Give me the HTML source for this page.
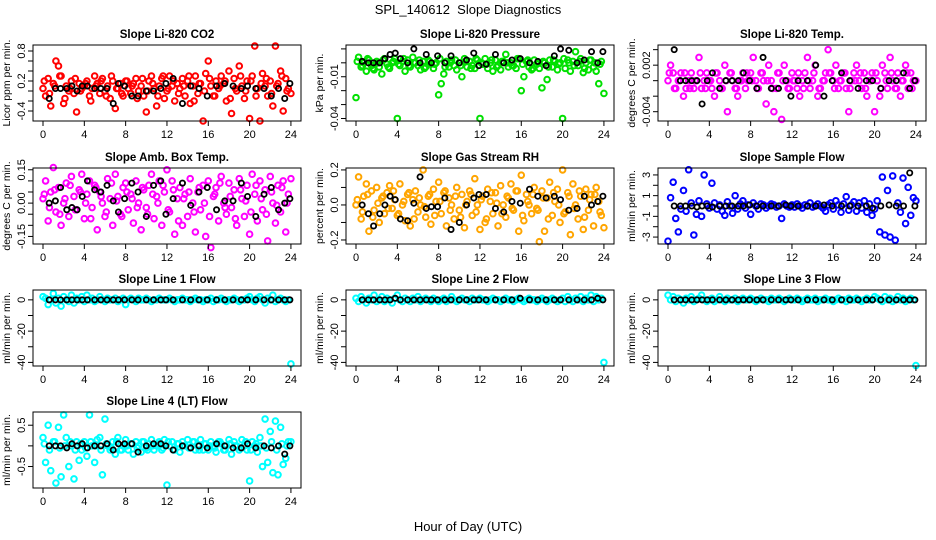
<!DOCTYPE html>
<html><head><meta charset="utf-8"><style>
html,body{margin:0;padding:0;background:#fff;}
svg{display:block;font-family:"Liberation Sans",sans-serif;}
</style></head><body>
<svg id="chart" width="936" height="540" viewBox="0 0 936 540" xmlns="http://www.w3.org/2000/svg">
<text x="468" y="14" text-anchor="middle" font-size="13">SPL_140612&#160;&#160;Slope Diagnostics</text>
<text x="468" y="531" text-anchor="middle" font-size="13">Hour of Day (UTC)</text>
</svg>
<script>
const hours = [0,0.25,0.5,0.75,1,1.25,1.5,1.75,2,2.25,2.5,2.75,3,3.25,3.5,3.75,4,4.25,4.5,4.75,5,5.25,5.5,5.75,6,6.25,6.5,6.75,7,7.25,7.5,7.75,8,8.25,8.5,8.75,9,9.25,9.5,9.75,10,10.25,10.5,10.75,11,11.25,11.5,11.75,12,12.25,12.5,12.75,13,13.25,13.5,13.75,14,14.25,14.5,14.75,15,15.25,15.5,15.75,16,16.25,16.5,16.75,17,17.25,17.5,17.75,18,18.25,18.5,18.75,19,19.25,19.5,19.75,20,20.25,20.5,20.75,21,21.25,21.5,21.75,22,22.25,22.5,22.75,23,23.25,23.5,23.75,24];
const hours2 = [0.125,0.625,1.125,1.625,2.125,2.625,3.125,3.625,4.125,4.625,5.125,5.625,6.125,6.625,7.125,7.625,8.125,8.625,9.125,9.625,10.125,10.625,11.125,11.625,12.125,12.625,13.125,13.625,14.125,14.625,15.125,15.625,16.125,16.625,17.125,17.625,18.125,18.625,19.125,19.625,20.125,20.625,21.125,21.625,22.125,22.625,23.125,23.625];
const blackHours = [0.6,1.2,1.7,2.3,2.8,3.3,3.8,4.3,5.0,5.6,6.2,6.8,7.3,7.9,8.6,9.2,10.0,10.7,11.4,11.9,12.6,13.5,14.3,15.1,15.9,16.8,17.6,18.4,19.2,19.8,20.6,21.4,22.1,22.8,23.4,23.9];
const xTicks = [0,4,8,12,16,20,24];

const co2Vals = [0.05,-0.1,0.25,-0.3,0.15,0.6,0.5,0.3,-0.25,0.1,0.0,0.2,-0.05,-0.42,0.15,0.05,
0.1,0.2,-0.1,0.05,0.3,0.15,-0.05,0.25,0.0,0.1,-0.15,0.2,-0.35,0.05,0.15,-0.1,
0.2,0.05,-0.05,0.15,0.25,0.0,0.1,-0.1,-0.42,0.2,0.3,0.05,-0.3,0.1,0.25,-0.15,
0.0,0.3,0.1,-0.2,0.15,0.05,0.25,-0.1,0.2,-0.25,0.1,0.3,-0.05,0.15,-0.6,0.35,
0.6,0.1,-0.1,0.2,0.05,0.3,0.15,-0.2,0.4,-0.45,0.25,0.0,0.5,0.1,-0.15,0.2,
-0.55,0.3,0.9,0.05,-0.6,0.35,0.1,-0.1,0.2,-0.3,0.9,0.15,0.4,-0.4,0.25,0.05,-0.05];
const co2ValsB = [0.2,-0.05,0.1,0.3,-0.15,0.05,0.25,0.0,0.15,-0.2,0.1,0.2,-0.1,0.3,0.05,-0.05,0.2,0.1,-0.15,0.25,0.0,0.15,-0.1,0.3,0.05,0.2,-0.05,0.1,0.3,-0.2,0.15,0.0,0.25,-0.1,0.1,0.2,-0.15,0.05,0.3,0.0,0.2,-0.1,0.15,0.25,-0.05,0.1,0.3,0.0];
const co2Black = [-0.15,0.05,0.05,0.05,0.1,0.0,0.1,0.1,0.05,0.05,0.05,-0.25,0.15,0.1,-0.1,-0.1,0.0,0.0,0.05,0.15,0.25,-0.25,0.1,0.05,-0.1,0.1,0.15,0.1,0.05,0.1,0.05,0.05,-0.1,0.05,-0.15,0.15];

const presVals = [-0.025,0.004,-0.003,0.0,-0.006,0.002,-0.002,-0.005,0.001,-0.003,-0.008,0.003,-0.001,-0.004,0.0,0.003,
-0.04,-0.002,0.001,-0.006,0.002,-0.003,0.004,0.0,-0.002,-0.005,0.001,-0.003,0.002,-0.001,-0.004,0.0,
-0.023,-0.015,-0.008,0.001,-0.003,0.002,-0.002,-0.005,0.0,-0.01,0.003,-0.003,0.001,-0.002,-0.004,0.002,
-0.04,-0.001,0.003,-0.004,0.0,-0.006,0.002,-0.002,-0.005,0.001,0.006,-0.003,0.0,-0.002,-0.004,0.003,
-0.02,-0.01,0.001,-0.003,-0.005,0.002,-0.001,-0.004,-0.018,0.0,-0.012,0.002,-0.003,0.001,-0.005,0.0,
-0.04,-0.004,0.002,-0.006,0.001,0.008,-0.002,0.003,-0.007,0.0,-0.005,0.002,-0.003,-0.006,-0.015,0.001,-0.022];
const presValsB = [0.001,-0.002,0.003,-0.004,0.0,0.002,-0.003,0.001,-0.001,0.003,-0.002,0.0,0.002,-0.004,0.001,-0.001,0.003,-0.003,0.0,0.002,-0.002,0.001,-0.004,0.003,0.0,-0.001,0.002,-0.003,0.001,0.0,-0.002,0.003,-0.001,0.002,-0.004,0.0,0.001,-0.003,0.002,-0.001,0.003,0.0,-0.002,0.001,-0.004,0.002,0.0,-0.001];
const presBlack = [0.001,0.0,0.0,0.0,0.003,0.006,0.007,0.003,0.0,0.01,0.0,0.006,0.0,0.005,0.0,0.005,0.0,0.002,0.007,-0.002,-0.001,0.006,0.0,0.002,0.003,0.0,0.001,-0.002,0.005,0.01,0.009,0.0,0.002,0.008,0.0,0.008];

const tempVals = [0.0,0.002,0.001,-0.001,0.0,0.001,-0.002,-0.001,0.0,0.001,-0.001,0.0,0.003,-0.001,0.0,0.001,
0.0,-0.001,-0.002,0.001,0.0,-0.001,0.002,-0.004,0.001,0.0,-0.001,-0.002,0.0,0.001,-0.001,0.0,
0.001,0.003,0.0,-0.001,0.001,0.0,-0.003,0.002,0.0,-0.004,-0.001,0.001,-0.005,0.002,0.0,-0.001,
0.001,0.0,-0.001,-0.002,0.0,0.001,0.003,-0.001,0.0,0.002,-0.002,-0.001,0.0,0.001,0.004,0.001,
0.0,0.002,-0.001,0.0,0.001,-0.001,-0.004,0.0,0.001,0.002,0.0,-0.001,0.001,-0.002,0.0,0.001,
-0.004,0.0,-0.002,0.002,0.001,-0.001,0.003,0.0,-0.001,0.001,-0.002,0.0,0.002,-0.001,0.001,0.0,0.0];
const tempValsB = [0.001,-0.001,0.0,0.001,-0.001,0.0,0.001,-0.001,0.0,0.001,-0.001,0.0,0.001,-0.001,0.0,0.001,0.0,-0.001,0.001,0.0,-0.001,0.001,0.0,-0.001,0.0,0.001,-0.001,0.0,0.001,-0.001,0.0,0.001,-0.001,0.0,0.001,-0.001,0.0,0.001,-0.001,0.0,0.001,-0.001,0.0,0.001,-0.001,0.0,0.001,-0.001];
const tempBlack = [0.004,0.0,0.0,0.0,0.0,-0.003,0.0,0.001,-0.001,0.0,0.0,0.0,0.001,0.0,-0.001,0.003,-0.001,-0.001,0.0,-0.002,0.0,0.0,0.002,-0.002,0.0,0.001,0.0,-0.001,0.0,0.0,-0.001,0.0,0.0,0.001,-0.001,0.0];

const ambVals = [0.02,0.1,-0.08,0.05,0.16,-0.04,0.07,-0.1,0.0,0.09,-0.06,0.12,0.03,-0.03,0.06,0.13,
-0.07,0.04,0.1,-0.02,0.08,-0.12,0.05,0.0,-0.06,0.11,0.02,-0.1,0.13,0.03,-0.05,0.07,
0.09,-0.03,0.04,-0.09,0.1,0.0,-0.12,0.06,-0.02,0.08,0.13,-0.07,0.03,0.1,-0.1,0.05,
0.15,-0.04,0.1,-0.14,0.02,0.07,-0.1,0.04,-0.06,0.11,0.0,-0.13,0.05,-0.03,0.08,-0.15,
0.1,-0.2,0.03,0.07,-0.08,0.12,0.0,-0.05,0.09,-0.02,0.06,-0.1,0.11,0.02,-0.06,0.08,
-0.14,0.13,0.04,-0.08,0.1,-0.03,0.06,-0.17,0.12,0.0,-0.09,0.08,-0.04,0.1,-0.13,0.04,0.11];
const ambValsB = [0.04,-0.02,0.06,-0.05,0.02,0.08,-0.03,0.05,0.0,-0.07,0.07,0.03,-0.04,0.09,0.01,-0.06,0.05,0.02,-0.02,0.07,-0.05,0.04,0.0,0.08,-0.03,0.06,-0.08,0.02,0.05,-0.04,0.07,0.0,-0.06,0.04,0.09,-0.02,0.03,-0.07,0.06,0.01,-0.04,0.08,0.02,-0.05,0.05,-0.01,0.07,0.0];
const ambBlack = [0.0,0.01,0.07,-0.03,-0.02,-0.03,0.03,0.1,0.06,0.05,0.08,0.01,-0.04,0.02,0.09,0.05,-0.06,0.08,0.1,-0.05,0.02,0.09,-0.01,0.05,0.07,-0.03,0.01,0.01,0.09,0.03,-0.06,0.04,0.07,-0.03,0.0,0.02];

const rhVals = [0.0,0.16,-0.08,0.05,0.12,-0.15,0.08,-0.03,0.1,-0.1,0.04,-0.05,0.07,0.11,-0.02,0.03,
-0.06,0.12,0.0,-0.09,0.06,-0.12,0.03,0.08,-0.04,0.0,0.2,-0.07,0.05,-0.11,0.09,0.02,
0.13,-0.05,0.07,-0.12,0.04,0.0,-0.08,0.1,-0.03,0.06,-0.13,0.02,0.08,-0.06,0.15,0.0,
-0.14,0.05,-0.1,0.09,0.02,-0.05,0.07,-0.12,0.11,0.0,-0.07,0.04,0.12,-0.03,0.08,-0.15,
0.17,-0.09,0.06,0.0,-0.05,0.1,-0.02,-0.21,0.08,-0.15,0.04,0.13,-0.06,0.02,0.09,-0.1,
0.2,-0.04,0.07,-0.17,0.12,0.0,-0.08,0.05,-0.14,0.09,-0.03,0.06,-0.12,0.1,0.02,-0.06,-0.13];
const rhValsB = [0.03,-0.04,0.06,-0.07,0.01,0.05,-0.02,0.08,-0.05,0.02,0.07,-0.08,0.04,-0.01,0.06,-0.06,0.02,0.08,-0.03,0.05,-0.07,0.0,0.06,-0.04,0.03,-0.08,0.07,0.01,-0.05,0.05,-0.02,0.08,-0.06,0.02,0.06,-0.03,0.04,-0.08,0.07,0.0,-0.05,0.05,-0.02,0.08,-0.07,0.03,0.06,-0.04];
const rhBlack = [0.0,-0.05,-0.12,-0.05,0.0,0.05,0.03,-0.08,-0.09,0.01,0.16,-0.02,-0.01,-0.01,0.04,-0.14,-0.1,0.0,0.04,0.06,0.06,-0.02,-0.04,0.02,0.01,0.09,0.05,0.04,0.05,0.03,-0.03,-0.02,0.05,0.0,0.02,0.05];

const sampVals = [-3.4,0.8,2.3,-1.2,-2.5,-0.3,1.5,-0.5,3.5,0.3,-2.8,-0.8,0.5,-1.0,3.0,0.2,
-0.2,2.2,0.3,-0.3,0.1,-0.5,-0.9,0.4,0.0,-0.7,1.0,-0.3,0.2,0.5,-0.2,0.1,
-0.8,0.3,0.0,-0.3,0.2,0.1,-0.2,0.0,0.2,0.1,-0.1,0.0,-1.2,0.2,0.0,-0.1,
0.1,-0.1,0.2,0.0,-0.2,0.1,0.0,0.3,-0.1,0.0,0.2,0.0,-0.2,-0.5,0.1,0.3,
-0.3,0.5,0.1,-0.6,0.2,0.9,-0.4,0.1,0.4,-0.5,0.3,-0.2,0.5,-0.6,0.2,-0.9,
-0.3,0.5,-2.5,2.8,-2.8,1.5,-3.0,2.9,-3.3,0.3,-0.6,2.7,-1.7,1.8,-0.9,0.8,0.5];
const sampBlack = [0,0,0,0,-0.1,0,0,-0.1,0,0,0,0,0,0.1,0,0,0,0,0.1,0,0,0,0,0.1,0,0,0,0,0,-0.2,0,0.1,0,0,3.2,0];

const line1Vals = [2,1,-3,0,4,-2,1,-4,2,0,-1,3,-2,1,0,2,-1,3,0,1,-1,0,2,0,-1,1,0,0,1,-1,0,1,
-3,0,1,0,-1,1,0,0,1,0,-1,0,0,1,0,0,0,1,0,-1,0,0,1,0,0,-1,0,1,0,0,-1,0,
0,1,-1,0,0,1,0,-1,0,0,1,0,-1,0,0,1,2,0,-1,1,2,0,-2,1,0,3,-1,0,1,0,-1,0,-41];
const line2Vals = [1,-1,2,0,-2,1,0,3,-1,0,2,-1,1,0,-2,1,3,0,-1,1,0,-1,1,0,2,-1,0,1,0,-1,1,0,
-1,0,1,-1,0,2,0,-1,0,1,0,0,-1,1,0,0,1,0,0,-1,0,1,0,0,-1,0,1,0,0,-1,0,1,
0,-1,0,1,0,0,-1,0,1,0,-1,0,1,0,-1,0,1,-1,2,0,-1,1,0,2,-1,1,0,3,-1,2,0,1,-40];
const line3Vals = [3,0,2,-1,1,0,-2,1,0,2,-1,0,1,3,0,-1,0,1,-1,0,2,0,-1,1,0,0,1,-1,0,1,0,0,
1,0,-1,0,1,0,0,-1,1,0,0,1,0,-1,0,1,0,0,1,0,-1,0,1,0,0,1,-1,0,0,1,0,0,
-1,0,1,0,0,-1,1,0,0,1,0,-1,0,1,0,0,2,1,0,-1,2,0,1,-1,0,2,0,1,-1,0,1,0,-42];
const lineBlack = [0,0,0,0,0,0,0,0,0,0,0,0,0,0,0,0,0,0,0,0,0,0,0,0,0,0,0,0,0,0,0,0,0,0,0,0];
const line2Black = [0,0,0,0,0,0,1,0,0,0,0,0,0,0,0,0,0,0,0,0,0,0,0,0,1,0,0,0,0,0,0,0,0,0,1,0];

const line4Vals = [0.2,-0.4,0.5,-0.6,0.1,-0.9,0.45,-0.75,0.75,0.2,-0.5,0.0,-0.8,0.1,-0.35,-0.1,
0.1,-0.25,0.75,0.0,-0.4,0.15,0.2,-0.7,0.65,0.0,-0.1,0.1,-0.2,0.2,-0.1,0.0,
0.15,-0.1,0.05,-0.2,0.1,0.0,-0.15,0.1,-0.05,0.05,0.15,-0.1,0.0,0.1,-0.1,0.15,
-0.95,0.0,0.1,-0.1,0.05,-0.15,0.1,0.0,0.15,-0.05,0.1,-0.1,0.0,0.15,-0.1,0.05,
-0.1,0.1,0.0,-0.15,0.1,0.05,-0.1,0.0,0.15,-0.2,0.1,0.0,-0.1,0.15,0.0,-0.1,
-0.85,0.1,0.0,-0.15,0.2,-0.5,0.65,-0.4,0.35,-0.65,0.6,-0.7,0.45,-0.45,-0.3,0.1,0.1];
const line4ValsB = [0.05,-0.1,0.1,-0.05,0.0,0.1,-0.1,0.05,-0.05,0.1,0.0,-0.1,0.05,-0.05,0.1,-0.1,0.0,0.05,-0.05,0.1,-0.1,0.0,0.05,-0.05,0.1,-0.1,0.05,0.0,-0.05,0.1,-0.1,0.05,0.0,-0.05,0.1,-0.1,0.05,0.0,-0.05,0.1,-0.1,0.05,0.0,-0.05,0.1,-0.1,0.05,0.0];
const line4Black = [0,0,0,-0.05,0.05,0,0.05,-0.05,0,0,0.05,-0.1,0.05,0.05,0.05,-0.15,0.0,0.05,0.05,0.0,-0.1,0.0,-0.05,0.0,-0.05,0.05,0.0,-0.05,-0.05,0.05,-0.05,0.0,-0.05,0.0,-0.2,0.0];

const co2Ticks=[-0.4,-0.2,0,0.2,0.4,0.6,0.8], co2Labels=["-0.4","0.2","0.8"];
const presTicks=[-0.04,-0.03,-0.02,-0.01,0,0.01], presLabels=["-0.04","-0.01"];
const tempTicks=[-0.004,-0.002,0,0.002,0.004], tempLabels=["-0.004","0.002"];
const ambTicks=[-0.15,-0.1,-0.05,0,0.05,0.1,0.15], ambLabels=["-0.15","0.00","0.15"];
const rhTicks=[-0.2,-0.1,0,0.1,0.2], rhLabels=["-0.2","0.0","0.2"];
const sampTicks=[-3,-2,-1,0,1,2,3], sampLabels=["-3","-1","1","3"];
const flowTicks=[-40,-30,-20,-10,0], flowLabels=["-40","-20","0"];
const l4Ticks=[-0.5,0,0.5], l4Labels=["-0.5","0.5"];

const NS="http://www.w3.org/2000/svg";
const svg=document.getElementById('chart');
function el(tag,attrs,parent){const e=document.createElementNS(NS,tag);for(const k in attrs)e.setAttribute(k,attrs[k]);(parent||svg).appendChild(e);return e;}

const colX=[33,346,658], rowY=[45,168,290,412], W=268, H=76;
const panels=[
 {name:'co2',title:'Slope Li-820 CO2',ylab:'Licor ppm per min.',c:0,r:0,lo:-0.6,hi:0.92,vals:co2Vals,valsB:co2ValsB,blk:co2Black,col:'#ff0000',ticks:co2Ticks,labels:co2Labels},
 {name:'pressure',title:'Slope Li-820 Pressure',ylab:'kPa per min.',c:1,r:0,lo:-0.0418,hi:0.0128,vals:presVals,valsB:presValsB,blk:presBlack,col:'#00e000',ticks:presTicks,labels:presLabels},
 {name:'li820-temp',title:'Slope Li-820 Temp.',ylab:'degrees C per min.',c:2,r:0,lo:-0.0052,hi:0.0046,vals:tempVals,valsB:tempValsB,blk:tempBlack,col:'#ff00ff',ticks:tempTicks,labels:tempLabels},
 {name:'amb-box-temp',title:'Slope Amb. Box Temp.',ylab:'degrees C per min.',c:0,r:1,lo:-0.184,hi:0.158,vals:ambVals,valsB:ambValsB,blk:ambBlack,col:'#ff00ff',ticks:ambTicks,labels:ambLabels},
 {name:'gas-stream-rh',title:'Slope Gas Stream RH',ylab:'percent per min.',c:1,r:1,lo:-0.223,hi:0.211,vals:rhVals,valsB:rhValsB,blk:rhBlack,col:'#ffa500',ticks:rhTicks,labels:rhLabels},
 {name:'sample-flow',title:'Slope Sample Flow',ylab:'ml/min per min.',c:2,r:1,lo:-3.67,hi:3.67,vals:sampVals,valsB:null,blk:sampBlack,col:'#0000ff',ticks:sampTicks,labels:sampLabels},
 {name:'line1-flow',title:'Slope Line 1 Flow',ylab:'ml/min per min.',c:0,r:2,lo:-42.3,hi:6.3,vals:line1Vals,valsB:null,blk:lineBlack,col:'#00ffff',ticks:flowTicks,labels:flowLabels},
 {name:'line2-flow',title:'Slope Line 2 Flow',ylab:'ml/min per min.',c:1,r:2,lo:-42.3,hi:6.3,vals:line2Vals,valsB:null,blk:line2Black,col:'#00ffff',ticks:flowTicks,labels:flowLabels},
 {name:'line3-flow',title:'Slope Line 3 Flow',ylab:'ml/min per min.',c:2,r:2,lo:-42.3,hi:6.3,vals:line3Vals,valsB:null,blk:lineBlack,col:'#00ffff',ticks:flowTicks,labels:flowLabels},
 {name:'line4-flow',title:'Slope Line 4 (LT) Flow',ylab:'ml/min per min.',c:0,r:3,lo:-1.02,hi:0.82,vals:line4Vals,valsB:line4ValsB,blk:line4Black,col:'#00ffff',ticks:l4Ticks,labels:l4Labels},
];
panels.forEach(p=>{
 const x0=colX[p.c], y0=rowY[p.r];
 const g=el('g',{});
 
 
 const xs=h=>x0+10+h*10.33;
 const ys=v=>y0+H-(v-p.lo)/(p.hi-p.lo)*H;
 const t=el('text',{x:x0+W/2,y:y0-7,'text-anchor':'middle','font-size':'11.5','font-weight':'bold'},g);
 t.textContent=p.title;
 
 
 const yl=el('text',{x:0,y:0,'text-anchor':'middle','font-size':'10.5',transform:`translate(${x0-23},${y0+H/2}) rotate(-90)`},g);
 yl.textContent=p.ylab;
 
 
 p.vals.forEach((v,i)=>{
  const c=el('circle',{cx:xs(hours[i]),cy:ys(v),r:2.8,fill:'none',stroke:p.col,'stroke-width':2},g);
  
  
 });
 if(p.valsB){p.valsB.forEach((v,i)=>{
  const c=el('circle',{cx:xs(hours2[i]),cy:ys(v),r:2.8,fill:'none',stroke:p.col,'stroke-width':2},g);
  
  
 });}
 p.blk.forEach((v,i)=>{
  const c=el('circle',{cx:xs(blackHours[i]),cy:ys(v),r:2.6,fill:'none',stroke:'#000','stroke-width':1.8},g);
  
  
 });
 const box=el('rect',{x:x0,y:y0,width:W,height:H,fill:'none',stroke:'#000','stroke-width':1},g);
 
 
 xTicks.forEach(h=>{
  el('line',{x1:xs(h),x2:xs(h),y1:y0+H,y2:y0+H+5,stroke:'#000'},g);
  const tl=el('text',{x:xs(h),y:y0+H+17,'text-anchor':'middle','font-size':'11'},g);
  tl.textContent=String(h);
  
  
 });
 el('line',{x1:xs(0),x2:xs(24),y1:y0+H,y2:y0+H,stroke:'#000'},g);
 p.ticks.forEach(v=>{ el('line',{x1:x0-5,x2:x0,y1:ys(v),y2:ys(v),stroke:'#000'},g); });
 p.labels.forEach(s=>{
  const tl=el('text',{x:0,y:0,'text-anchor':'middle','font-size':'11',transform:`translate(${x0-8},${ys(parseFloat(s))}) rotate(-90)`},g);
  tl.textContent=s;
  
  
 });
});
</script>
</body></html>
